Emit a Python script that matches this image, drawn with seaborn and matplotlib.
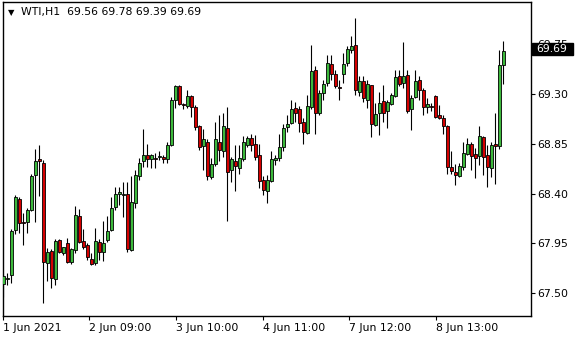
import numpy as np
import pandas as pd
import matplotlib
matplotlib.use("Agg")
import matplotlib.pyplot as plt
import seaborn as sns
from matplotlib.patches import Rectangle
from matplotlib.transforms import blended_transform_factory, offset_copy

# ---------------- data ----------------
symbol = "WTI,H1"
header_values = ["69.56", "69.78", "69.39", "69.69"]

opens = [67.58, 67.63, 67.66, 68.07, 68.35, 68.14, 68.14, 68.25, 68.57, 68.71,
         68.68, 67.77, 67.88, 67.63, 67.98, 67.86, 67.95, 67.78, 67.89, 68.20,
         67.97, 67.93, 67.81, 67.77, 67.96, 67.87, 67.98, 68.07, 68.28, 68.40,
         68.39, 68.40, 67.89, 68.31, 68.56, 68.69, 68.75, 68.71, 68.72, 68.73,
         68.73, 68.71, 68.84, 69.25, 69.37, 69.21, 69.19, 69.28, 69.18, 69.01,
         68.83, 68.87, 68.55, 68.67, 68.87, 68.78, 68.99, 68.61, 68.69, 68.63,
         68.71, 68.84, 68.90, 68.85, 68.75, 68.52, 68.42, 68.51, 68.70, 68.72,
         68.82, 69.00, 69.04, 69.17, 69.16, 69.05, 68.95, 69.18, 69.52, 69.13,
         69.31, 69.40, 69.57, 69.48, 69.36, 69.48, 69.58, 69.70, 69.74, 69.32,
         69.42, 69.25, 69.38, 69.02, 69.13, 69.24, 69.15, 69.21, 69.28, 69.46,
         69.40, 69.47, 69.16, 69.27, 69.43, 69.34, 69.18, 69.19, 69.28, 69.11,
         69.08, 69.01, 68.64, 68.59, 68.56, 68.64, 68.76, 68.85, 68.76, 68.74,
         68.91, 68.75, 68.63, 68.85, 68.83, 69.56]
highs = [67.67, 67.68, 68.08, 68.39, 68.37, 68.22, 68.27, 68.58, 68.80, 68.84,
         68.70, 67.91, 67.90, 67.99, 67.99, 67.92, 68.00, 67.91, 68.29, 68.26,
         68.08, 67.95, 67.86, 68.09, 67.99, 68.15, 68.20, 68.37, 68.46, 68.46,
         68.50, 68.50, 68.56, 68.61, 68.72, 68.98, 68.85, 68.76, 68.77, 68.78,
         68.75, 68.87, 69.27, 69.38, 69.38, 69.22, 69.34, 69.29, 69.20, 69.02,
         68.98, 68.89, 68.72, 69.05, 69.11, 69.13, 69.18, 68.73, 68.84, 68.84,
         68.92, 68.92, 68.94, 68.93, 68.85, 68.56, 68.57, 68.78, 68.75, 68.94,
         69.03, 69.11, 69.25, 69.23, 69.19, 69.08, 69.29, 69.74, 69.55, 69.34,
         69.43, 69.65, 69.65, 69.52, 69.43, 69.67, 69.73, 69.82, 69.99, 69.46,
         69.46, 69.43, 69.38, 69.22, 69.32, 69.38, 69.25, 69.31, 69.52, 69.52,
         69.77, 69.52, 69.29, 69.52, 69.46, 69.35, 69.26, 69.22, 69.29, 69.20,
         69.11, 69.02, 68.78, 68.67, 68.68, 68.87, 68.90, 68.87, 68.81, 69.01,
         68.92, 68.84, 68.87, 69.13, 69.70, 69.78]
lows = [67.46, 67.57, 67.59, 68.03, 68.04, 67.93, 68.04, 68.24, 68.14, 68.38,
        67.41, 67.61, 67.55, 67.57, 67.86, 67.84, 67.77, 67.76, 67.86, 67.95,
        67.90, 67.80, 67.75, 67.75, 67.80, 67.79, 67.96, 68.06, 68.25, 68.30,
        68.19, 67.87, 67.88, 68.27, 68.52, 68.64, 68.64, 68.63, 68.63, 68.70,
        68.68, 68.68, 68.83, 69.17, 69.20, 69.16, 69.17, 69.09, 68.97, 68.79,
        68.61, 68.52, 68.53, 68.65, 68.69, 68.73, 68.15, 68.50, 68.42, 68.58,
        68.69, 68.82, 68.78, 68.70, 68.45, 68.39, 68.31, 68.50, 68.66, 68.69,
        68.78, 68.96, 69.03, 69.05, 68.96, 68.85, 68.94, 69.16, 68.94, 69.11,
        69.25, 69.37, 69.43, 69.35, 69.25, 69.40, 69.55, 69.67, 69.29, 69.28,
        69.23, 69.17, 68.91, 69.01, 68.93, 69.05, 68.99, 69.20, 69.27, 69.37,
        69.35, 69.13, 68.97, 69.26, 69.25, 69.11, 69.13, 69.15, 69.08, 69.07,
        68.94, 68.58, 68.58, 68.48, 68.55, 68.61, 68.75, 68.61, 68.54, 68.66,
        68.57, 68.46, 68.55, 68.49, 68.80, 69.39]
closes = [67.65, 67.64, 68.06, 68.37, 68.13, 68.13, 68.25, 68.56, 68.69, 68.69,
          67.78, 67.87, 67.64, 67.97, 67.87, 67.92, 67.78, 67.90, 68.21, 67.96,
          67.92, 67.83, 67.76, 67.97, 67.87, 67.95, 68.06, 68.27, 68.40, 68.41,
          68.40, 67.90, 68.32, 68.57, 68.68, 68.75, 68.71, 68.75, 68.71, 68.74,
          68.71, 68.84, 69.25, 69.37, 69.21, 69.20, 69.28, 69.18, 69.00, 68.82,
          68.89, 68.56, 68.67, 68.89, 68.79, 69.01, 68.59, 68.71, 68.65, 68.72,
          68.87, 68.90, 68.84, 68.73, 68.51, 68.43, 68.52, 68.71, 68.72, 68.82,
          68.99, 69.03, 69.16, 69.13, 69.04, 68.96, 69.19, 69.51, 69.13, 69.31,
          69.39, 69.58, 69.48, 69.37, 69.35, 69.57, 69.71, 69.73, 69.34, 69.42,
          69.26, 69.39, 69.03, 69.12, 69.22, 69.13, 69.23, 69.29, 69.45, 69.39,
          69.46, 69.15, 69.26, 69.42, 69.34, 69.18, 69.21, 69.18, 69.09, 69.08,
          69.01, 68.64, 68.60, 68.57, 68.65, 68.77, 68.85, 68.74, 68.72, 68.92,
          68.73, 68.64, 68.84, 68.83, 69.56, 69.69]

x_tick_labels = ["1 Jun 2021", "2 Jun 09:00", "3 Jun 10:00", "4 Jun 11:00",
                 "7 Jun 12:00", "8 Jun 13:00"]
x_tick_bars = [0, 21.5, 43.2, 64.85, 86.4, 108.1]
y_ticks = [67.50, 67.95, 68.40, 68.85, 69.30, 69.75]
last_price = closes[-1]

# ---------------- style ----------------
sns.set_theme(style="white")
plt.rcParams["font.family"] = ["DejaVu Sans"]

BULL = "#3cb83c"
BEAR = "#d40000"

df = pd.DataFrame({"bar": np.arange(len(opens)), "open": opens, "high": highs,
                   "low": lows, "close": closes})
df["bull"] = df["close"] >= df["open"]
df["body_low"] = df[["open", "close"]].min(axis=1)
df["body_h"] = (df["close"] - df["open"]).abs().clip(lower=0.006)

W, H = 580, 340
fig = plt.figure(figsize=(W / 100, H / 100), dpi=100)
fig.patch.set_facecolor("white")
left, right, top, bottom = 2.5, 530.7, 2.3, 315.7
ax = fig.add_axes([left / W, 1 - bottom / H, (right - left) / W, (bottom - top) / H])
ax.set_facecolor("white")

# wicks
ax.vlines(df["bar"], df["low"], df["high"], color="black", linewidth=0.8, zorder=2)
# bodies
colors = np.where(df["bull"], BULL, BEAR)
ax.bar(df["bar"], df["body_h"], bottom=df["body_low"], width=0.78,
       color=colors, edgecolor="black", linewidth=0.6, zorder=3)

ax.set_xlim(-0.2, 131.85)
ax.set_ylim(67.295, 70.129)

for s in ax.spines.values():
    s.set_color("black")
    s.set_linewidth(1.0)
    s.set_visible(True)

ax.yaxis.tick_right()
ax.set_yticks(y_ticks)
ax.set_yticklabels([f"{v:.2f}" for v in y_ticks])
ax.tick_params(axis="y", which="both", direction="out", length=3, width=0.8,
               color="black", labelsize=7.8, labelcolor="black", pad=2,
               left=False, right=True)
ax.set_xticks(x_tick_bars)
ax.set_xticklabels(x_tick_labels)
for lab in ax.get_xticklabels():
    lab.set_horizontalalignment("left")
ax.tick_params(axis="x", which="both", direction="out", length=3, width=0.8,
               color="black", labelsize=7.8, labelcolor="black", pad=2,
               bottom=True, top=False)
ax.grid(False)

# last price tag (drawn over the partly hidden 69.75 label, as in the reference)
tr = offset_copy(blended_transform_factory(ax.transAxes, ax.transData),
                 fig=fig, x=0, y=1.5, units="dots")
box_h = 12 / 110.56
ax.add_patch(Rectangle((1.0025, last_price - box_h / 2), 41 / (right - left), box_h,
                       transform=tr, facecolor="black", edgecolor="black",
                       clip_on=False, zorder=10))
ax.text(1.0 + 6 / (right - left), last_price, f"{last_price:.2f}", transform=tr,
        color="white", fontsize=7.8, va="center", ha="left", zorder=11, clip_on=False)

# header
fig.text(11 / W, 1 - 12.5 / H, "\u25BC", fontsize=6, ha="center", va="center",
         color="black")
fig.text(21 / W, 1 - 12.5 / H, symbol + "  " + " ".join(header_values),
         fontsize=7.8, ha="left", va="center", color="black")

fig.savefig("out.png", dpi=100, facecolor="white")
